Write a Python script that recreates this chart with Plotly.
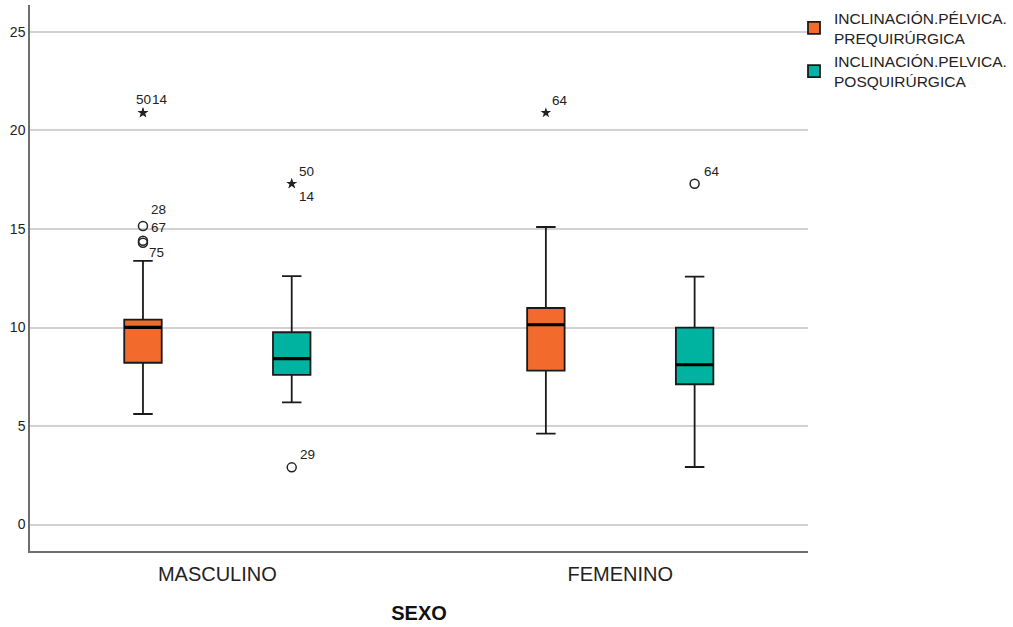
import plotly.graph_objects as go

# ---- data -------------------------------------------------------------
categories = ["MASCULINO", "FEMENINO"]
series_names = ["INCLINACIÓN.PÉLVICA.<br>PREQUIRÚRGICA",
                "INCLINACIÓN.PELVICA.<br>POSQUIRÚRGICA"]

pre_lowerfence = [5.61, 4.61]
pre_q1 = [8.21, 7.81]
pre_median = [10.01, 10.14]
pre_q3 = [10.40, 10.99]
pre_upperfence = [13.38, 15.10]

post_lowerfence = [6.20, 2.92]
post_q1 = [7.60, 7.12]
post_median = [8.42, 8.11]
post_q3 = [9.76, 9.99]
post_upperfence = [12.61, 12.58]

# outliers: (category index, value, case id, kind)  kind: "o" = outlier, "*" = extreme
pre_outliers = [(0, 20.9, "50", "*"), (0, 20.9, "14", "*"),
                (0, 15.15, "28", "o"), (0, 14.4, "67", "o"), (0, 14.3, "75", "o"),
                (1, 20.9, "64", "*")]
post_outliers = [(0, 17.3, "50", "*"), (0, 17.3, "14", "*"),
                 (0, 2.9, "29", "o"),
                 (1, 17.3, "64", "o")]

# ---- styling ----------------------------------------------------------
colors = ["#F26A2C", "#00B2A0"]
group_offset = [-0.1846, 0.1846]
box_width = 0.093
# pixel nudges for the case-number labels (dx, dy, anchor)
label_nudge = {
    (0, 0, "50"): (-9, 13, "left"), (0, 0, "14"): (7, 13, "left"),
    (0, 0, "28"): (6, 17, "left"), (0, 0, "67"): (6, 13, "left"),
    (0, 0, "75"): (4, -10, "left"), (0, 1, "64"): (4, 12, "left"),
    (1, 0, "50"): (5, 12, "left"), (1, 0, "14"): (5, -13, "left"),
    (1, 0, "29"): (6, 13, "left"), (1, 1, "64"): (7, 12, "left"),
}

series = [
    dict(low=pre_lowerfence, q1=pre_q1, med=pre_median, q3=pre_q3,
         high=pre_upperfence, out=pre_outliers),
    dict(low=post_lowerfence, q1=post_q1, med=post_median, q3=post_q3,
         high=post_upperfence, out=post_outliers),
]

fig = go.Figure()
annotations = []

for s, (name, d) in enumerate(zip(series_names, series)):
    xs = [i + group_offset[s] for i in range(len(categories))]
    fig.add_trace(go.Box(
        x=xs, q1=d["q1"], median=d["med"], q3=d["q3"],
        lowerfence=d["low"], upperfence=d["high"],
        width=box_width, whiskerwidth=0.52,
        fillcolor=colors[s], line=dict(color="#1a1a1a", width=1.8),
        name=name, boxpoints=False, hoverinfo="skip",
    ))
    # thicker median bar drawn on top of each box
    fig.add_trace(go.Box(
        x=xs, q1=d["med"], median=d["med"], q3=d["med"],
        lowerfence=d["med"], upperfence=d["med"],
        width=box_width, whiskerwidth=0.0,
        fillcolor="rgba(0,0,0,0)", line=dict(color="#000000", width=3.2),
        showlegend=False, boxpoints=False, hoverinfo="skip",
    ))
    for kind, symbol, size, lw in (("o", "circle-open", 9, 1.5), ("*", "star", 8, 0)):
        pts = [p for p in d["out"] if p[3] == kind]
        if not pts:
            continue
        fig.add_trace(go.Scatter(
            x=[p[0] + group_offset[s] for p in pts], y=[p[1] for p in pts],
            mode="markers", showlegend=False, hoverinfo="skip",
            marker=dict(symbol=symbol, size=size, color="#222222",
                        line=dict(color="#333333", width=lw)),
        ))
    for ci, val, case, kind in d["out"]:
        dx, dy, anchor = label_nudge[(s, ci, case)]
        annotations.append(dict(
            x=ci + group_offset[s], y=val, xref="x", yref="y",
            text=case, showarrow=False, xanchor=anchor, yanchor="middle",
            xshift=dx, yshift=dy,
            font=dict(family="Liberation Sans, Arial, sans-serif", size=13.5,
                      color="#222222"),
        ))

fig.update_layout(
    width=1013, height=627,
    margin=dict(l=30, r=205, t=5, b=76, autoexpand=False),
    paper_bgcolor="white", plot_bgcolor="white",
    font=dict(family="Liberation Sans, Arial, sans-serif", color="#222222"),
    showlegend=True,
    legend=dict(x=0.982, y=1.007, xanchor="left", yanchor="top",
                font=dict(size=15.5, color="#222222"),
                bgcolor="rgba(0,0,0,0)", tracegroupgap=0,
                itemwidth=30),
    annotations=annotations,
    xaxis=dict(
        range=[-0.465, 1.466], tickmode="array",
        tickvals=list(range(len(categories))), ticktext=categories,
        showgrid=False, zeroline=False, showline=True,
        linecolor="#6e6e6e", linewidth=1.5, ticks="",
        tickfont=dict(size=20, color="#222222"),
        ticklabelstandoff=4,
        title=dict(text="<b>SEXO</b>", font=dict(size=20, color="#111111"),
                   standoff=22),
    ),
    yaxis=dict(
        range=[-1.345, 26.37], tickvals=[0, 5, 10, 15, 20, 25],
        showgrid=True, gridcolor="#d2d2d2", gridwidth=1.5,
        zeroline=False, showline=True, linecolor="#6e6e6e", linewidth=1.5,
        ticks="", tickfont=dict(size=14, color="#222222"),
    ),
)

fig.write_html("out.html")
